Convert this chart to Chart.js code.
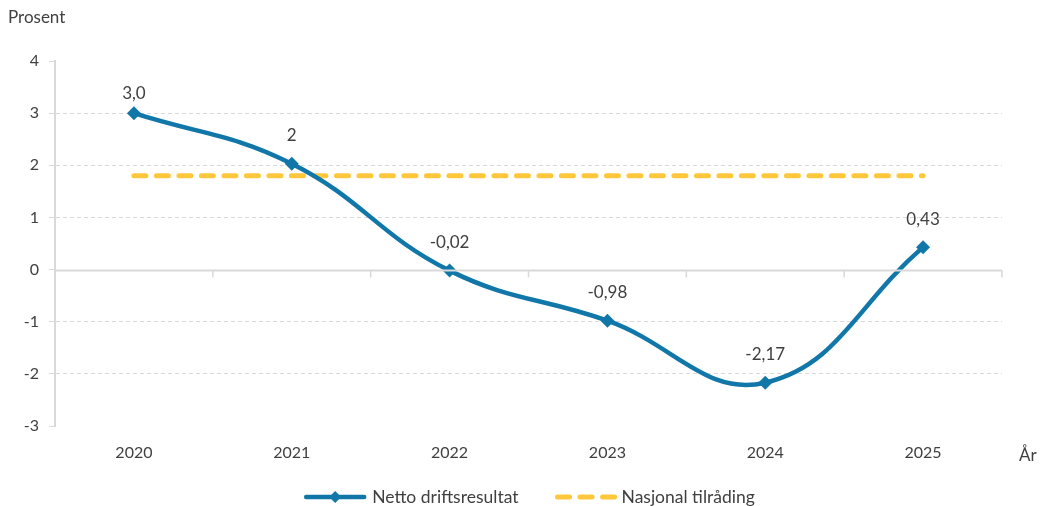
<!DOCTYPE html>
<html>
<head>
<meta charset="utf-8">
<script src="https://cdn.jsdelivr.net/npm/chart.js@4.4.1/dist/chart.umd.min.js"></script>
<style>
  html, body { margin: 0; padding: 0; background: #ffffff; }
  #wrap { width: 1040px; height: 506px; position: relative; }
</style>
</head>
<body>
<div id="wrap"><canvas id="c" width="1040" height="506"></canvas></div>
<script>
// ---- Data ----
const years = ['2020', '2021', '2022', '2023', '2024', '2025'];
const nettoValues = [3.0, 2.03, -0.02, -0.98, -2.17, 0.43];
const nettoLabels = ['3,0', '2', '-0,02', '-0,98', '-2,17', '0,43'];
const tilradingValues = [1.8, 1.8, 1.8, 1.8, 1.8, 1.8];
const seriesNames = ['Netto driftsresultat', 'Nasjonal tilråding'];
const yAxisTitle = 'Prosent';
const xAxisTitle = 'År';
const yMin = -3, yMax = 4;

// ---- Style ----
const BLUE = '#1177a9';
const YELLOW = '#ffc73b';
const GRID = '#d9d9d9';
const TEXT = '#404040';
const FONT = 'Lato, "Open Sans", sans-serif';

const decorPlugin = {
  id: 'decor',
  afterDraw(chart) {
    const ctx = chart.ctx;
    const x = chart.scales.x, y = chart.scales.y;
    const ca = chart.chartArea;
    ctx.save();
    // zero axis line with tick marks between categories
    const y0 = Math.round(y.getPixelForValue(0)) + 0.5;
    ctx.strokeStyle = GRID; ctx.lineWidth = 2; ctx.setLineDash([]);
    ctx.beginPath(); ctx.moveTo(ca.left, y0); ctx.lineTo(ca.right, y0); ctx.stroke();
    ctx.lineWidth = 1.5;
    for (let i = 1; i <= years.length; i++) {
      const px = i < years.length ? (x.getPixelForValue(i - 1) + x.getPixelForValue(i)) / 2 : ca.right;
      ctx.beginPath(); ctx.moveTo(px, y0); ctx.lineTo(px, y0 + 7); ctx.stroke();
    }

    // legend
    const ds = chart.data.datasets;
    ctx.font = '17.5px ' + FONT;
    ctx.fillStyle = TEXT;
    ctx.textBaseline = 'middle';
    ctx.textAlign = 'left';
    const symW = 62, symGap = 6, itemGap = 35, ly = 497;
    const widths = ds.map(d => symW + symGap + ctx.measureText(d.label).width);
    const total = widths.reduce((a, b) => a + b, 0) + itemGap * (ds.length - 1);
    let lx = (ca.left + ca.right) / 2 - total / 2 + 1;
    ds.forEach((d, i) => {
      ctx.save();
      ctx.strokeStyle = d.borderColor;
      ctx.lineWidth = d.borderWidth;
      ctx.lineCap = 'round';
      if (d.borderDash) {
        ctx.setLineDash(d.borderDash);
        ctx.beginPath(); ctx.moveTo(lx + 4, ly); ctx.lineTo(lx + symW, ly); ctx.stroke();
      } else {
        ctx.beginPath(); ctx.moveTo(lx + 2, ly); ctx.lineTo(lx + symW - 2, ly); ctx.stroke();
        ctx.fillStyle = d.borderColor;
        const cx = lx + symW / 2, r = 6;
        ctx.beginPath(); ctx.moveTo(cx, ly - r); ctx.lineTo(cx + r, ly); ctx.lineTo(cx, ly + r); ctx.lineTo(cx - r, ly); ctx.closePath(); ctx.fill();
      }
      ctx.restore();
      ctx.fillText(d.label, lx + symW + symGap, ly);
      lx += widths[i] + itemGap;
    });
    ctx.restore();
  },
  afterDatasetsDraw(chart) {
    const ctx = chart.ctx;
    const ca = chart.chartArea;
    const meta = chart.getDatasetMeta(0);
    ctx.save();
    ctx.fillStyle = TEXT;
    ctx.font = '17px ' + FONT;
    ctx.textAlign = 'center';
    ctx.textBaseline = 'middle';
    meta.data.forEach((pt, i) => {
      const ly = Math.max(pt.y - 28, ca.top + 33);
      ctx.fillText(nettoLabels[i], pt.x, ly);
    });
    // axis titles
    ctx.textAlign = 'left';
    ctx.fillText(yAxisTitle, 8, 18);
    ctx.fillText(xAxisTitle, 1019, 456);
    ctx.restore();
  }
};

new Chart(document.getElementById('c'), {
  type: 'line',
  data: {
    labels: years,
    datasets: [
      {
        label: seriesNames[0],
        data: nettoValues,
        borderColor: BLUE,
        backgroundColor: BLUE,
        borderWidth: 4.5,
        tension: 0.42,
        pointStyle: 'rectRot',
        pointRadius: 7,
        pointHoverRadius: 7,
        pointBackgroundColor: BLUE,
        pointBorderColor: BLUE,
        pointBorderWidth: 0,
        order: 0
      },
      {
        label: seriesNames[1],
        data: tilradingValues,
        borderColor: YELLOW,
        backgroundColor: YELLOW,
        borderWidth: 5,
        borderDash: [12, 10.5],
        borderCapStyle: 'round',
        pointRadius: 0,
        pointHoverRadius: 0,
        order: 1
      }
    ]
  },
  options: {
    responsive: false,
    animation: false,
    devicePixelRatio: 1,
    layout: { padding: { top: 61, right: 38, left: 0, bottom: 40 } },
    plugins: {
      tooltip: { enabled: false },
      legend: { display: false }
    },
    scales: {
      x: {
        offset: true,
        afterFit(scale) { scale.height = 40; },
        grid: { display: false, drawTicks: false },
        border: { display: false },
        ticks: { color: TEXT, font: { family: FONT, size: 16 }, padding: 17 }
      },
      y: {
        min: yMin,
        max: yMax,
        afterFit(scale) { scale.width = 55; },
        ticks: { stepSize: 1, color: TEXT, font: { family: FONT, size: 16 }, padding: 10 },
        grid: {
          color(ctx) {
            const v = ctx.tick && ctx.tick.value;
            if (v === yMax || v === yMin || v === 0) return 'rgba(0,0,0,0)';
            return GRID;
          },
          tickColor: GRID,
          tickLength: 6,
          lineWidth: 1
        },
        border: { display: true, color: GRID, width: 2, dash: [4, 3] }
      }
    }
  },
  plugins: [decorPlugin]
});
</script>
</body>
</html>
